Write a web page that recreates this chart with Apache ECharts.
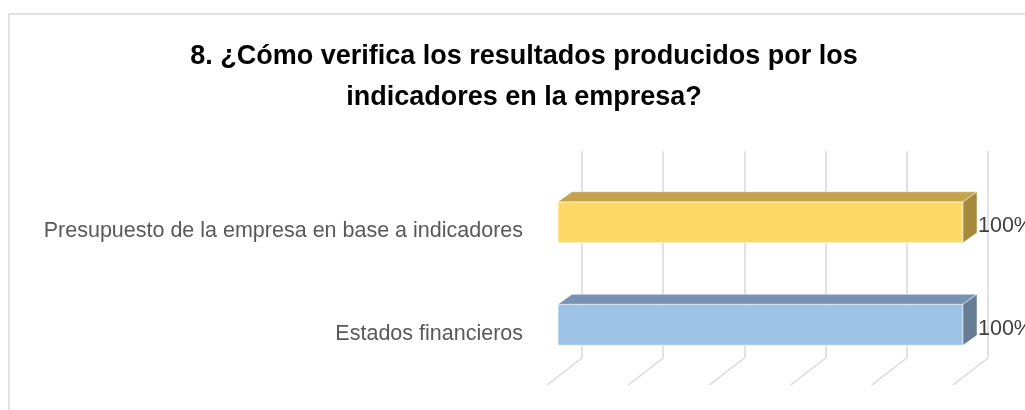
<!DOCTYPE html>
<html>
<head>
<meta charset="utf-8">
<title>Verificación de indicadores</title>
<script src="https://cdn.jsdelivr.net/npm/echarts@6/dist/echarts.min.js"></script>
<style>
  html, body {
    margin: 0;
    padding: 0;
    background: #fff;
  }
  #chart {
    width: 1025px;
    height: 410px;
  }
</style>
</head>
<body>
<div id="chart"></div>
<script>
  // datos
  var categories = ['Presupuesto de la empresa en base a indicadores', 'Estados financieros']
  var values = [1, 1]
  var ticks = [0, 0.2, 0.4, 0.6, 0.8, 1]
  var frontColors = ['#FFD966', '#9DC3E6']
  var topColors = ['#C2A34E', '#7793B1']
  var sideColors = ['#A68A3E', '#677D95']

  var chart = echarts.init(document.getElementById('chart'))

  // barra 3D: cara frontal, superior y lateral
  function renderBar(params, api) {
    var idx = api.value(1)
    var end = api.coord([api.value(0), idx])
    var start = api.coord([0, idx])
    var h = 41
    var dx = 14
    var dy = -10
    var top = end[1] - 9 - h / 2
    var bot = top + h
    return {
      type: 'group',
      children: [
        {
          type: 'rect',
          shape: { x: start[0], y: top, width: end[0] - start[0], height: h },
          style: { fill: frontColors[idx], stroke: 'rgba(255,255,255,0.6)', lineWidth: 1 },
        },
        {
          type: 'polygon',
          shape: {
            points: [[start[0], top], [start[0] + dx, top + dy], [end[0] + dx, top + dy], [end[0], top]],
          },
          style: { fill: topColors[idx], stroke: 'rgba(255,255,255,0.5)', lineWidth: 1 },
        },
        {
          type: 'polygon',
          shape: {
            points: [[end[0], top], [end[0] + dx, top + dy], [end[0] + dx, bot + dy], [end[0], bot]],
          },
          style: { fill: sideColors[idx], stroke: 'rgba(255,255,255,0.5)', lineWidth: 1 },
        },
        {
          type: 'text',
          x: end[0] + dx + 1,
          y: top + h / 2 + 4,
          style: {
            text: Math.round(api.value(0) * 100) + '%',
            fill: '#404040',
            font: '21.5px "Liberation Sans", Arial, sans-serif',
            align: 'left',
            verticalAlign: 'middle',
          },
        },
      ],
    }
  }

  // líneas del piso
  function renderFloor(params, api) {
    var p = api.coord([api.value(0), 0])
    return {
      type: 'line',
      shape: { x1: p[0], y1: p[1], x2: p[0] - 35, y2: p[1] + 27 },
      style: { stroke: '#D9D9D9', lineWidth: 1.5 },
    }
  }

  var option = {
    animation: false,
    title: {
      text: '8. ¿Cómo verifica los resultados producidos por los\nindicadores en la empresa?',
      left: 524,
      top: 36,
      textAlign: 'center',
      padding: 0,
      textStyle: {
        fontFamily: '"Liberation Sans", Arial, sans-serif',
        fontSize: 27,
        fontWeight: 'bold',
        color: '#000',
        lineHeight: 41,
      },
    },
    graphic: [
      {
        type: 'rect',
        shape: { x: 9, y: 14, width: 1030, height: 420 },
        style: { fill: 'none', stroke: '#D9D9D9', lineWidth: 1.5 },
        z: -1,
      },
    ],
    grid: [
      // frente (barras y etiquetas)
      { left: 558, width: 405, top: 180, height: 205 },
      // pared del fondo (líneas de cuadrícula)
      { left: 582, width: 406, top: 151, height: 207 },
    ],
    xAxis: [
      {
        gridIndex: 0,
        type: 'value',
        min: 0,
        max: 1,
        show: false,
      },
      {
        gridIndex: 1,
        type: 'value',
        min: 0,
        max: 1,
        interval: 0.2,
        axisLine: { show: false },
        axisTick: { show: false },
        axisLabel: { show: false },
        splitLine: { lineStyle: { color: '#D9D9D9', width: 1.5 } },
      },
    ],
    yAxis: [
      {
        gridIndex: 0,
        type: 'category',
        inverse: true,
        data: categories,
        axisLine: { show: false },
        axisTick: { show: false },
        axisLabel: {
          margin: 35,
          color: '#595959',
          fontSize: 21.5,
          fontFamily: '"Liberation Sans", Arial, sans-serif',
        },
      },
      {
        gridIndex: 1,
        type: 'value',
        min: 0,
        max: 1,
        show: false,
      },
    ],
    series: [
      {
        type: 'custom',
        xAxisIndex: 1,
        yAxisIndex: 1,
        renderItem: renderFloor,
        data: ticks.map(function (t) {
          return [t]
        }),
        silent: true,
        z: 1,
      },
      {
        type: 'custom',
        xAxisIndex: 0,
        yAxisIndex: 0,
        renderItem: renderBar,
        encode: { x: 0, y: 1 },
        data: values.map(function (v, i) {
          return [v, i]
        }),
        z: 3,
      },
    ],
  }

  chart.setOption(option)
</script>
</body>
</html>
